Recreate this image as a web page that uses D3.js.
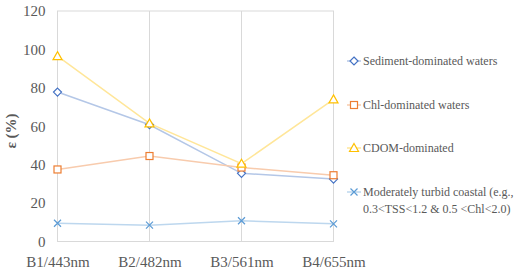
<!DOCTYPE html>
<html>
<head>
<meta charset="utf-8">
<script src="https://cdn.jsdelivr.net/npm/d3@7"></script>
<style>
body { margin: 0; background: #fff; }
</style>
</head>
<body>
<div id="chart-area"></div>
<script>
// bands and values
const bands = ["B1/443nm", "B2/482nm", "B3/561nm", "B4/655nm"];
const sediment = [77.8, 60.8, 35.5, 32.5];
const chl = [37.5, 44.5, 38.5, 34.5];
const cdom = [96.5, 61.5, 40.5, 74];
const moderate = [9.5, 8.5, 10.8, 9.2];
const yTicks = [0, 20, 40, 60, 80, 100, 120];

const series = [
  {name: ["Sediment-dominated waters"], values: sediment, marker: "diamond", stroke: "#4472C4", line: "#B4C7E7"},
  {name: ["Chl-dominated waters"], values: chl, marker: "square", stroke: "#ED7D31", line: "#F8CBAD"},
  {name: ["CDOM-dominated"], values: cdom, marker: "triangle", stroke: "#FFC000", line: "#FFE699"},
  {name: ["Moderately turbid coastal (e.g.,", "0.3<TSS<1.2 & 0.5 <Chl<2.0)"], values: moderate, marker: "cross", stroke: "#5B9BD5", line: "#BDD7EE"}
];

const FONT = "Liberation Serif";

const svg = d3.select("#chart-area").append("svg")
  .attr("width", 521)
  .attr("height", 273)
  .attr("font-family", FONT);

const x = d3.scalePoint().domain(bands).range([57.5, 333.5]);
const y = d3.scaleLinear().domain([0, 120]).range([241.5, 11]);

// plot frame + vertical grid lines
svg.append("rect")
  .attr("x", x(bands[0])).attr("y", y(120))
  .attr("width", x(bands[3]) - x(bands[0]))
  .attr("height", y(0) - y(120))
  .attr("fill", "none").attr("stroke", "#D9D9D9");

svg.append("g").selectAll("line")
  .data(bands).enter().append("line")
  .attr("x1", d => x(d)).attr("x2", d => x(d))
  .attr("y1", y(120)).attr("y2", y(0))
  .attr("stroke", "#D9D9D9");

// axes (labels only)
const axisY = svg.append("g").attr("transform", "translate(" + x(bands[0]) + ",0)")
  .call(d3.axisLeft(y).tickValues(yTicks).tickSize(0).tickPadding(12));
axisY.attr("font-family", FONT).attr("font-size", 15);
axisY.select(".domain").remove();
axisY.selectAll("text").attr("fill", "#595959");

const axisX = svg.append("g").attr("transform", "translate(0," + y(0) + ")")
  .call(d3.axisBottom(x).tickSize(0).tickPadding(14.5));
axisX.attr("font-family", FONT).attr("font-size", 15);
axisX.select(".domain").remove();
axisX.selectAll("text").attr("fill", "#595959");

svg.append("text")
  .attr("transform", "translate(16,131) rotate(-90)")
  .attr("text-anchor", "middle")
  .attr("font-size", 15)
  .attr("font-weight", "bold")
  .attr("fill", "#595959")
  .text("ε (%)");

function drawMarker(g, type, color) {
  if (type == "diamond") {
    g.append("path").attr("d", "M0,-4L4,0L0,4L-4,0Z").attr("fill", "#fff").attr("stroke", color).attr("stroke-width", 1.2);
  } else if (type == "square") {
    g.append("rect").attr("x", -3.5).attr("y", -3.5).attr("width", 7).attr("height", 7).attr("fill", "#fff").attr("stroke", color).attr("stroke-width", 1.2);
  } else if (type == "triangle") {
    g.append("path").attr("d", "M0,-4.5L4.5,3.5L-4.5,3.5Z").attr("fill", "#fff").attr("stroke", color).attr("stroke-width", 1.2);
  } else {
    g.append("path").attr("d", "M-3.5,-3.5L3.5,3.5M-3.5,3.5L3.5,-3.5").attr("fill", "none").attr("stroke", color).attr("stroke-width", 1.2);
  }
}

const line = d3.line().x((d, i) => x(bands[i])).y(d => y(d));

series.forEach(function(s) {
  svg.append("path").datum(s.values)
    .attr("d", line)
    .attr("fill", "none")
    .attr("stroke", s.line)
    .attr("stroke-width", 1.5);
});

series.forEach(function(s) {
  s.values.forEach(function(v, i) {
    const g = svg.append("g").attr("transform", "translate(" + x(bands[i]) + "," + y(v) + ")");
    drawMarker(g, s.marker, s.stroke);
  });
});

// legend
const legendY = [61, 105, 148, 192];
series.forEach(function(s, i) {
  const g = svg.append("g").attr("transform", "translate(347," + legendY[i] + ")");
  g.append("line").attr("x1", 0).attr("x2", 14).attr("stroke", s.line).attr("stroke-width", 1.5);
  const m = g.append("g").attr("transform", "translate(7,0)");
  drawMarker(m, s.marker, s.stroke);
  const t = g.append("text").attr("x", 16).attr("y", 4.3).attr("font-size", 12).attr("fill", "#595959");
  s.name.forEach(function(n, k) {
    t.append("tspan").attr("x", 16).attr("dy", k == 0 ? 0 : 16.5).text(n);
  });
});
</script>
</body>
</html>
